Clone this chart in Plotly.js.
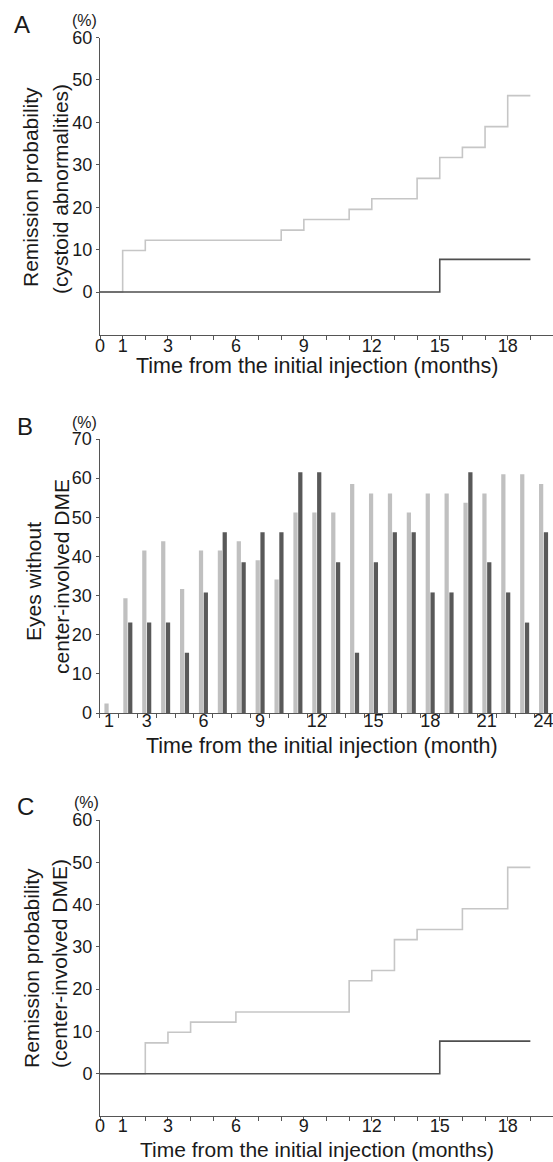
<!DOCTYPE html>
<html>
<head>
<meta charset="utf-8">
<script src="https://cdn.plot.ly/plotly-3.0.1.min.js"></script>
<style>html,body{margin:0;padding:0;background:#fff;}#chart{width:553px;height:1162px;}</style>
</head>
<body>
<div id="chart"></div>
<script>
// Panel A: remission probability (cystoid abnormalities), step curves
const timeA_light = [0, 1, 2, 8, 9, 11, 12, 14, 15, 16, 17, 18, 19];
const probA_light = [0, 9.8, 12.2, 14.6, 17.1, 19.5, 22.0, 26.8, 31.7, 34.1, 39.0, 46.3, 46.3];
const timeA_dark = [0, 15, 19];
const probA_dark = [0, 7.7, 7.7];

// Panel B: eyes without center-involved DME, by month
const monthsB = [1,2,3,4,5,6,7,8,9,10,11,12,13,14,15,16,17,18,19,20,21,22,23,24];
const lightB = [2.4,29.3,41.5,43.9,31.7,41.5,41.5,43.9,39.0,34.1,51.2,51.2,51.2,58.5,56.1,56.1,51.2,56.1,56.1,53.7,56.1,61.0,61.0,58.5];
const darkB  = [0,23.1,23.1,23.1,15.4,30.8,46.2,38.5,46.2,46.2,61.5,61.5,38.5,15.4,38.5,46.2,46.2,30.8,30.8,61.5,38.5,30.8,23.1,46.2];

// Panel C: remission probability (center-involved DME), step curves
const timeC_light = [0, 2, 3, 4, 6, 11, 12, 13, 14, 16, 18, 19];
const probC_light = [0, 7.3, 9.8, 12.2, 14.6, 22.0, 24.4, 31.7, 34.1, 39.0, 48.8, 48.8];
const timeC_dark = [0, 15, 19];
const probC_dark = [0, 7.7, 7.7];

// Tick labels
const kmTickVals = [0,1,2,3,4,5,6,7,8,9,10,11,12,13,14,15,16,17,18,19,20];
const kmTickText = ['0','1','','3','','','6','','','9','','','12','','','15','','','18','',''];
const barTickVals = [1,3,6,9,12,15,18,21,24];
const barTickText = ['1','3','6','9','12','15','18','21','24'];

const W = 553, H = 1162;
const LIGHT_LINE = '#c6c6c6', DARK_LINE = '#4f4f4f';
const LIGHT_BAR = '#c0c0c0', DARK_BAR = '#595959';
const AX = '#555555', TXT = '#1a1a1a';
const FONT = 'Liberation Sans, Arial, sans-serif';

const px = v => v / W;
const py = v => 1 - v / H;

const traces = [
  {x: timeA_light, y: probA_light, xaxis: 'x', yaxis: 'y', type: 'scatter', mode: 'lines',
   line: {shape: 'hv', color: LIGHT_LINE, width: 1.6}, name: 'light A', hoverinfo: 'skip'},
  {x: timeA_dark, y: probA_dark, xaxis: 'x', yaxis: 'y', type: 'scatter', mode: 'lines',
   line: {shape: 'hv', color: DARK_LINE, width: 1.6}, name: 'dark A', hoverinfo: 'skip'},
  {x: monthsB, y: lightB, xaxis: 'x2', yaxis: 'y2', type: 'bar',
   marker: {color: LIGHT_BAR, line: {width: 0}}, name: 'light B'},
  {x: monthsB, y: darkB, xaxis: 'x2', yaxis: 'y2', type: 'bar',
   marker: {color: DARK_BAR, line: {width: 0}}, name: 'dark B'},
  {x: timeC_light, y: probC_light, xaxis: 'x3', yaxis: 'y3', type: 'scatter', mode: 'lines',
   line: {shape: 'hv', color: LIGHT_LINE, width: 1.6}, name: 'light C', hoverinfo: 'skip'},
  {x: timeC_dark, y: probC_dark, xaxis: 'x3', yaxis: 'y3', type: 'scatter', mode: 'lines',
   line: {shape: 'hv', color: DARK_LINE, width: 1.6}, name: 'dark C', hoverinfo: 'skip'}
];

const tickFont = {family: FONT, size: 18, color: TXT};
const baseAxis = {
  showline: true, linecolor: AX, linewidth: 1, showgrid: false, zeroline: false,
  ticks: 'outside', ticklen: 4, tickcolor: AX, tickwidth: 1, tickfont: tickFont, fixedrange: true,
  ticklabeloverflow: 'allow'
};

const layout = {
  width: W, height: H,
  margin: {l: 0, r: 0, t: 0, b: 0, pad: 0},
  paper_bgcolor: '#ffffff', plot_bgcolor: '#ffffff',
  showlegend: false,
  font: {family: FONT, color: TXT},
  barmode: 'group', bargap: 0.49, bargroupgap: 0.12,
  xaxis: Object.assign({}, baseAxis, {ticklabelstandoff: -9, domain: [px(100), 1], anchor: 'y', range: [0, 20],
    tickmode: 'array', tickvals: kmTickVals, ticktext: kmTickText}),
  yaxis: Object.assign({}, baseAxis, {domain: [py(334.5), py(37.5)], anchor: 'x', range: [-10, 60],
    tickmode: 'array', tickvals: [0,10,20,30,40,50,60], ticklen: 3}),
  xaxis2: Object.assign({}, baseAxis, {ticklabelstandoff: -9, domain: [px(99.5), 1], anchor: 'y2', range: [0.5, 24.5],
    tickmode: 'array', tickvals: barTickVals, ticktext: barTickText, ticks: '',
    minor: {tickmode: 'linear', tick0: 0.5, dtick: 1, ticks: 'outside', ticklen: 4, tickcolor: AX, tickwidth: 1, showgrid: false}}),
  yaxis2: Object.assign({}, baseAxis, {domain: [py(713), py(439)], anchor: 'x2', range: [0, 70],
    tickmode: 'array', tickvals: [0,10,20,30,40,50,60,70], ticklen: 3}),
  xaxis3: Object.assign({}, baseAxis, {ticklabelstandoff: -11, domain: [px(100), 1], anchor: 'y3', range: [0, 20],
    tickmode: 'array', tickvals: kmTickVals, ticktext: kmTickText}),
  yaxis3: Object.assign({}, baseAxis, {domain: [py(1116), py(820)], anchor: 'x3', range: [-10, 60],
    tickmode: 'array', tickvals: [0,10,20,30,40,50,60], ticklen: 3}),
  annotations: []
};

function ann(text, x, y, size, angle) {
  layout.annotations.push({text: text, xref: 'paper', yref: 'paper', x: px(x), y: py(y),
    xanchor: 'center', yanchor: 'middle', showarrow: false, textangle: angle || 0,
    font: {family: FONT, size: size, color: TXT}});
}
// panel letters
ann('A', 21.5, 24.5, 24);
ann('B', 24.5, 426.5, 24);
ann('C', 25.5, 806, 24);
// unit labels
ann('(%)', 84, 20.5, 16);
ann('(%)', 84.5, 422.5, 16);
ann('(%)', 86, 802, 16);
// x titles
ann('Time from the initial injection (months)', 317, 366, 21.5);
ann('Time from the initial injection (month)', 322, 746, 21.5);
ann('Time from the initial injection (months)', 317, 1149, 21);
// y titles
ann('Remission probability', 31, 187, 21, -90);
ann('(cystoid abnormalities)', 60, 189, 21, -90);
ann('Eyes without', 33, 582, 21, -90);
ann('center-involved DME', 61, 577, 21, -90);
ann('Remission probability', 31, 968, 21, -90);
ann('(center-involved DME)', 59, 964, 21, -90);

Plotly.newPlot('chart', traces, layout, {staticPlot: true, displayModeBar: false});
</script>
</body>
</html>
